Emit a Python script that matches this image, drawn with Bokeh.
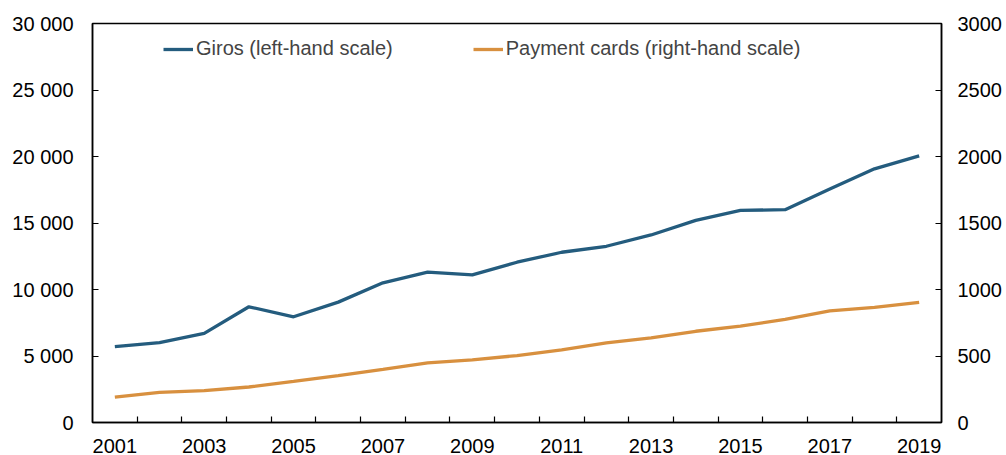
from bokeh.plotting import figure
from bokeh.models import Range1d, LinearAxis, FixedTicker, Legend, LegendItem
from bokeh.embed import file_html
from bokeh.resources import INLINE

years = list(range(2001, 2020))
giros = [5700, 6000, 6700, 8700, 7950, 9050, 10500, 11300, 11100, 12050,
         12800, 13250, 14100, 15200, 15950, 16000, 17550, 19070, 20050]
cards = [190, 227, 240, 267, 309, 352, 399, 449, 471, 503,
         546, 598, 636, 686, 725, 775, 840, 865, 903]
left_ticks = [0, 5000, 10000, 15000, 20000, 25000, 30000]
left_labels = ["0", "5 000", "10 000", "15 000", "20 000", "25 000", "30 000"]
right_ticks = [0, 500, 1000, 1500, 2000, 2500, 3000]
year_labels = [2001, 2003, 2005, 2007, 2009, 2011, 2013, 2015, 2017, 2019]

BLUE = "#245c7e"
ORANGE = "#d8903f"
FONT = "Liberation Sans"
FS = "20px"

p = figure(width=1004, height=455, output_backend="svg", toolbar_location=None,
           x_range=Range1d(years[0] - 0.5, years[-1] + 0.5),
           y_range=Range1d(0, 30000))
p.extra_y_ranges = {"right": Range1d(0, 3000)}
p.min_border_left = 92
p.min_border_top = 23
p.min_border_right = 60
p.min_border_bottom = 20
p.xgrid.visible = False
p.ygrid.visible = False
p.outline_line_color = "black"
p.outline_line_width = 1.5
p.background_fill_color = "white"
p.border_fill_color = "white"

r1 = p.line(years, giros, color=BLUE, line_width=3.3)
r2 = p.line(years, cards, color=ORANGE, line_width=3.3, y_range_name="right")

# x axis
xa = p.xaxis[0]
xa.ticker = FixedTicker(ticks=year_labels,
                        minor_ticks=[y + 0.5 for y in years[:-1]])
xa.major_tick_line_color = None
xa.minor_tick_in = 6
xa.minor_tick_out = 0
xa.minor_tick_line_color = "black"
xa.minor_tick_line_width = 1.2
xa.axis_line_color = "black"
xa.axis_line_width = 1.5
xa.major_label_standoff = 10
xa.major_label_text_font = FONT
xa.major_label_text_font_size = FS
xa.major_label_text_color = "black"

# left axis
ya = p.yaxis[0]
ya.ticker = FixedTicker(ticks=left_ticks)
ya.major_label_overrides = {t: l for t, l in zip(left_ticks, left_labels)}
ya.major_tick_in = 6
ya.major_tick_out = 0
ya.minor_tick_line_color = None
ya.axis_line_width = 1.5
ya.major_label_standoff = 19
ya.major_label_text_font = FONT
ya.major_label_text_font_size = FS
ya.major_label_text_color = "black"

# right axis
ra = LinearAxis(y_range_name="right", ticker=FixedTicker(ticks=right_ticks))
ra.major_tick_in = 6
ra.major_tick_out = 0
ra.minor_tick_line_color = None
ra.axis_line_width = 1.5
ra.major_label_standoff = 16
ra.major_label_text_font = FONT
ra.major_label_text_font_size = FS
ra.major_label_text_color = "black"
p.add_layout(ra, "right")

legend = Legend(items=[LegendItem(label="Giros (left-hand scale)", renderers=[r1]),
                       LegendItem(label="Payment cards (right-hand scale)", renderers=[r2])],
                orientation="horizontal", location=(71, 362),
                padding=0, margin=0, spacing=80, label_standoff=3,
                glyph_width=30, glyph_height=20,
                label_text_font=FONT, label_text_font_size=FS,
                border_line_color=None, background_fill_alpha=0)
p.add_layout(legend, "center")

open("out.html", "w").write(file_html(p, INLINE))
